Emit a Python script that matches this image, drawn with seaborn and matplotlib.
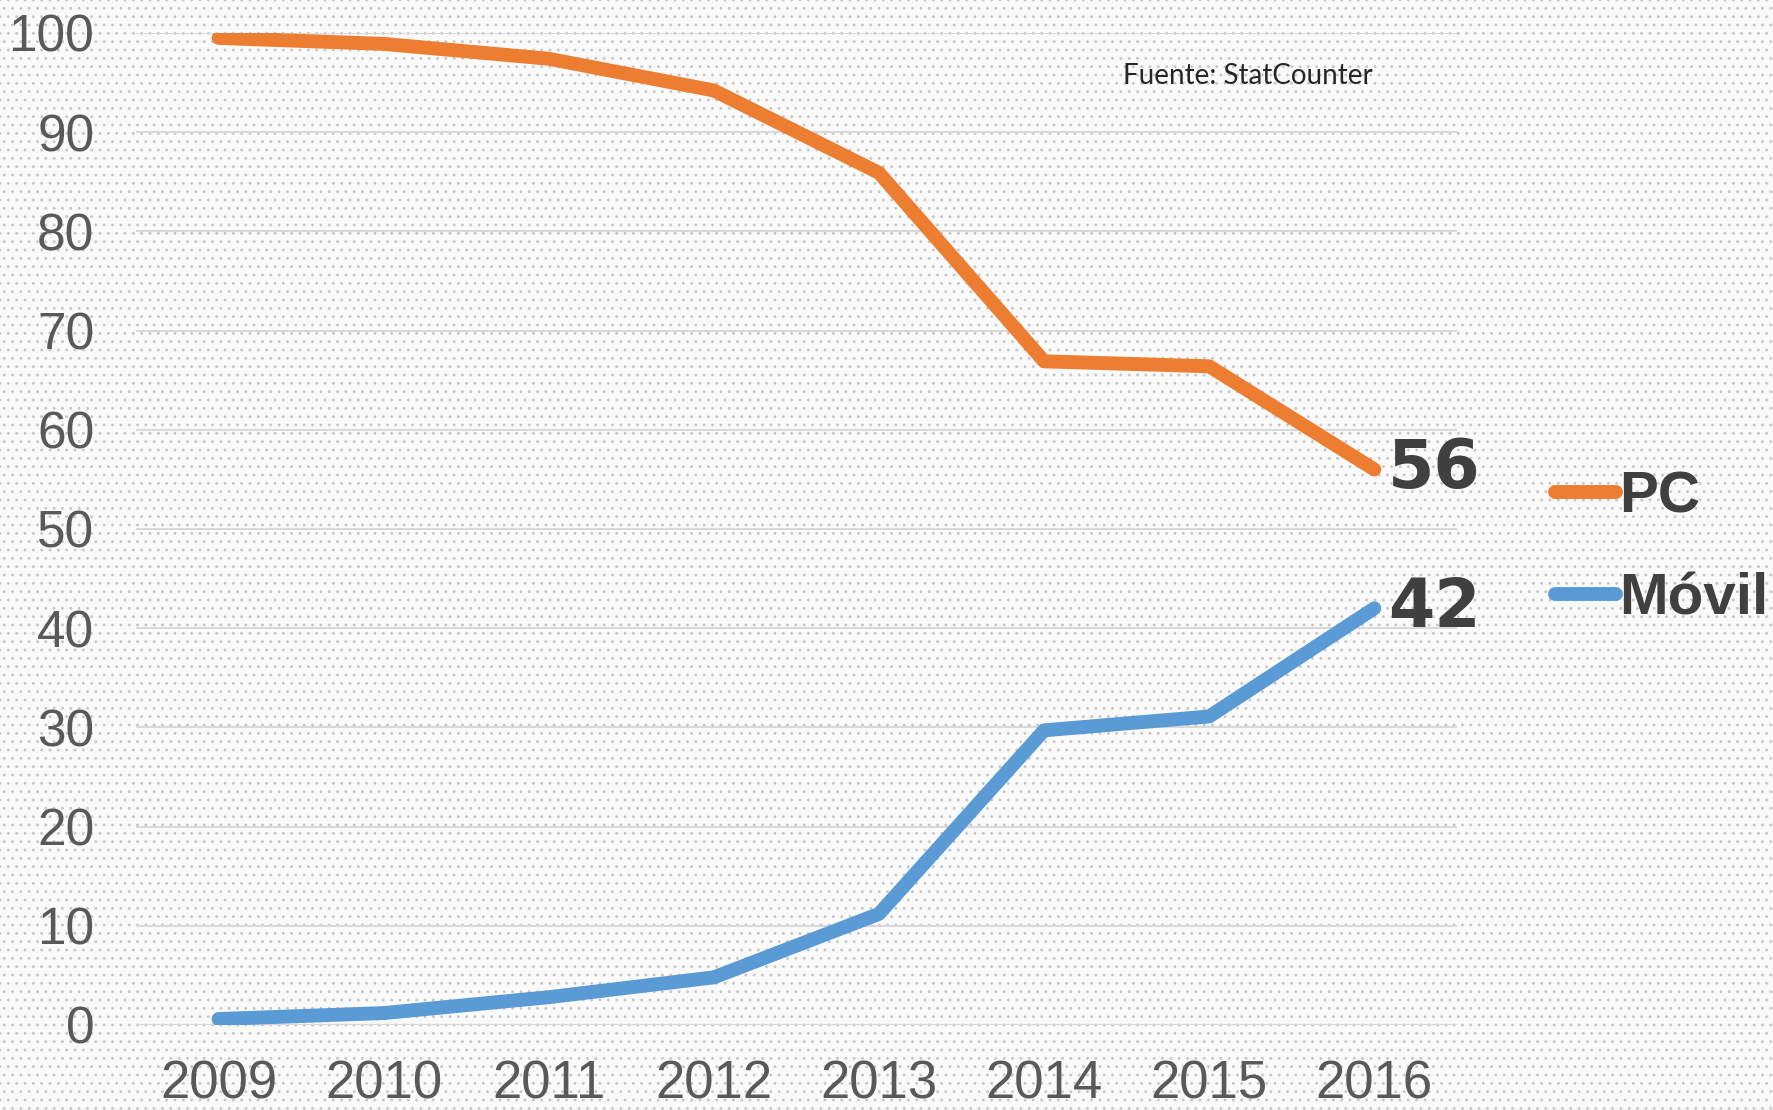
import pandas as pd
import matplotlib.pyplot as plt
import seaborn as sns
from matplotlib.patches import Rectangle

# datos (cuota de trafico web, %)
years = ["2009", "2010", "2011", "2012", "2013", "2014", "2015", "2016"]
pc = [99.5, 98.9, 97.4, 94.2, 85.9, 66.9, 66.4, 56]
movil = [0.6, 1.2, 2.8, 4.8, 11.2, 29.7, 31.1, 42]
series = ["PC", "Móvil"]
colores = ["#ED7D31", "#5B9BD5"]
yticks = [0, 10, 20, 30, 40, 50, 60, 70, 80, 90, 100]

df = pd.DataFrame({
    "Año": years * 2,
    "Porcentaje": pc + movil,
    "Serie": [series[0]] * len(years) + [series[1]] * len(years),
})

sns.set_theme(style="white")
plt.rcParams['font.family'] = ['Liberation Sans', 'DejaVu Sans']
plt.rcParams['hatch.linewidth'] = 0.9

fig = plt.figure(figsize=(17.73, 11.10), dpi=100)
fig.patch.set_facecolor('#f9f9f9')
# fondo punteado
fig.add_artist(Rectangle((0, 0), 1, 1, transform=fig.transFigure, facecolor='#fafafa',
                         edgecolor='#c8c8c8', linewidth=0, hatch='..', zorder=-10))

ax = fig.add_axes([0.0767, 0.0766, 0.745, 0.8937])
ax.set_facecolor('none')

sns.lineplot(data=df, x="Año", y="Porcentaje", hue="Serie", palette=colores,
             linewidth=10, solid_capstyle='round', sort=False, ax=ax)

ax.set_xlim(-0.5, len(years) - 0.5)
ax.set_ylim(0, 100)
ax.set_yticks(yticks)
ax.set_xlabel("")
ax.set_ylabel("")
ax.yaxis.grid(True, color='#d9d9d9', linewidth=1.5)
ax.xaxis.grid(False)
for s in ax.spines.values():
    s.set_visible(False)
ax.tick_params(axis='y', length=0, labelsize=37, labelcolor='#595959', pad=30)
ax.tick_params(axis='x', length=0, labelsize=38, labelcolor='#595959', pad=25)

# valores finales
for vals in [pc, movil]:
    ax.annotate(f"{vals[-1]:.0f}", xy=(len(years) - 1, vals[-1]), xytext=(10, 0),
                textcoords='offset points', va='center', ha='left',
                fontsize=48, fontweight='bold', color='#404040', family='DejaVu Sans')

handles, labels = ax.get_legend_handles_labels()
leg = ax.legend(handles, labels, loc='center left', bbox_to_anchor=(0.877, 0.506),
                bbox_transform=fig.transFigure, frameon=False, borderpad=0,
                borderaxespad=0, handlelength=1.05, handletextpad=0.05,
                labelspacing=0.82, labelcolor='#404040',
                prop={'family': 'Liberation Sans', 'weight': 'bold', 'size': 42})
for ln in leg.get_lines():
    ln.set_linewidth(10)
    ln.set_solid_capstyle('round')

fig.text(1123 / 1773, 1 - 76 / 1110, "Fuente: StatCounter", fontsize=20,
         family='Lato', color='#262626', va='center', ha='left')

fig.savefig("out.png", dpi=100, facecolor=fig.get_facecolor())
